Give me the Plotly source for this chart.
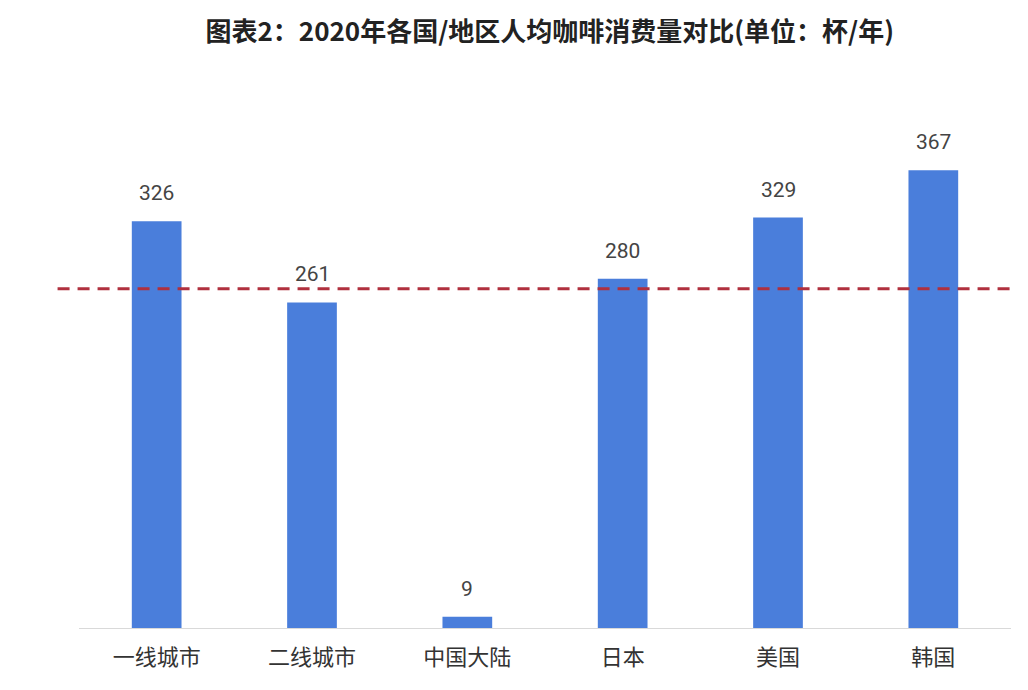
import plotly.graph_objects as go

# 各国/地区人均咖啡消费量（杯/年）
regions = ['一线城市', '二线城市', '中国大陆', '日本', '美国', '韩国']
cups = [326, 261, 9, 280, 329, 367]
ref_level = 272  # 虚线参考水平

fig = go.Figure()

fig.add_trace(go.Bar(
    x=regions, y=cups,
    marker=dict(color='#4a7edb', line=dict(width=0)),
    width=0.32,
    hoverinfo='x+y',
))

# 数据标签（离柱顶留一点距离）
for name, v in zip(regions, cups):
    fig.add_annotation(
        x=name, y=v, text=str(v), showarrow=False,
        yanchor='bottom', yshift=14,
        font=dict(size=21, color='#444444', family='Roboto, Noto Sans CJK SC'),
    )

# 红色虚线
fig.add_shape(
    type='line', xref='paper', yref='y',
    x0=-0.023, x1=1.005, y0=ref_level, y1=ref_level,
    line=dict(color='#b0303e', width=3, dash='12px,8px'),
)

fig.update_layout(
    width=1028, height=690,
    margin=dict(l=71, r=25, t=121, b=70),
    paper_bgcolor='white', plot_bgcolor='white',
    title=dict(
        text='<b>图表2：2020年各国/地区人均咖啡消费量对比(单位：杯/年)</b>',
        x=0.527, xanchor='center', y=0.978, yanchor='top',
        font=dict(size=26, color='#222222', family='Noto Sans CJK SC'),
    ),
    xaxis=dict(
        showgrid=False, showline=True, linecolor='#d9d9d9', linewidth=1,
        ticks='', ticklabelstandoff=10,
        tickfont=dict(size=22, color='#333333', family='Noto Sans CJK SC'),
    ),
    yaxis=dict(range=[0, 400], visible=False, showgrid=False),
    showlegend=False,
    font=dict(family='Noto Sans CJK SC'),
)

fig.write_html('out.html')
